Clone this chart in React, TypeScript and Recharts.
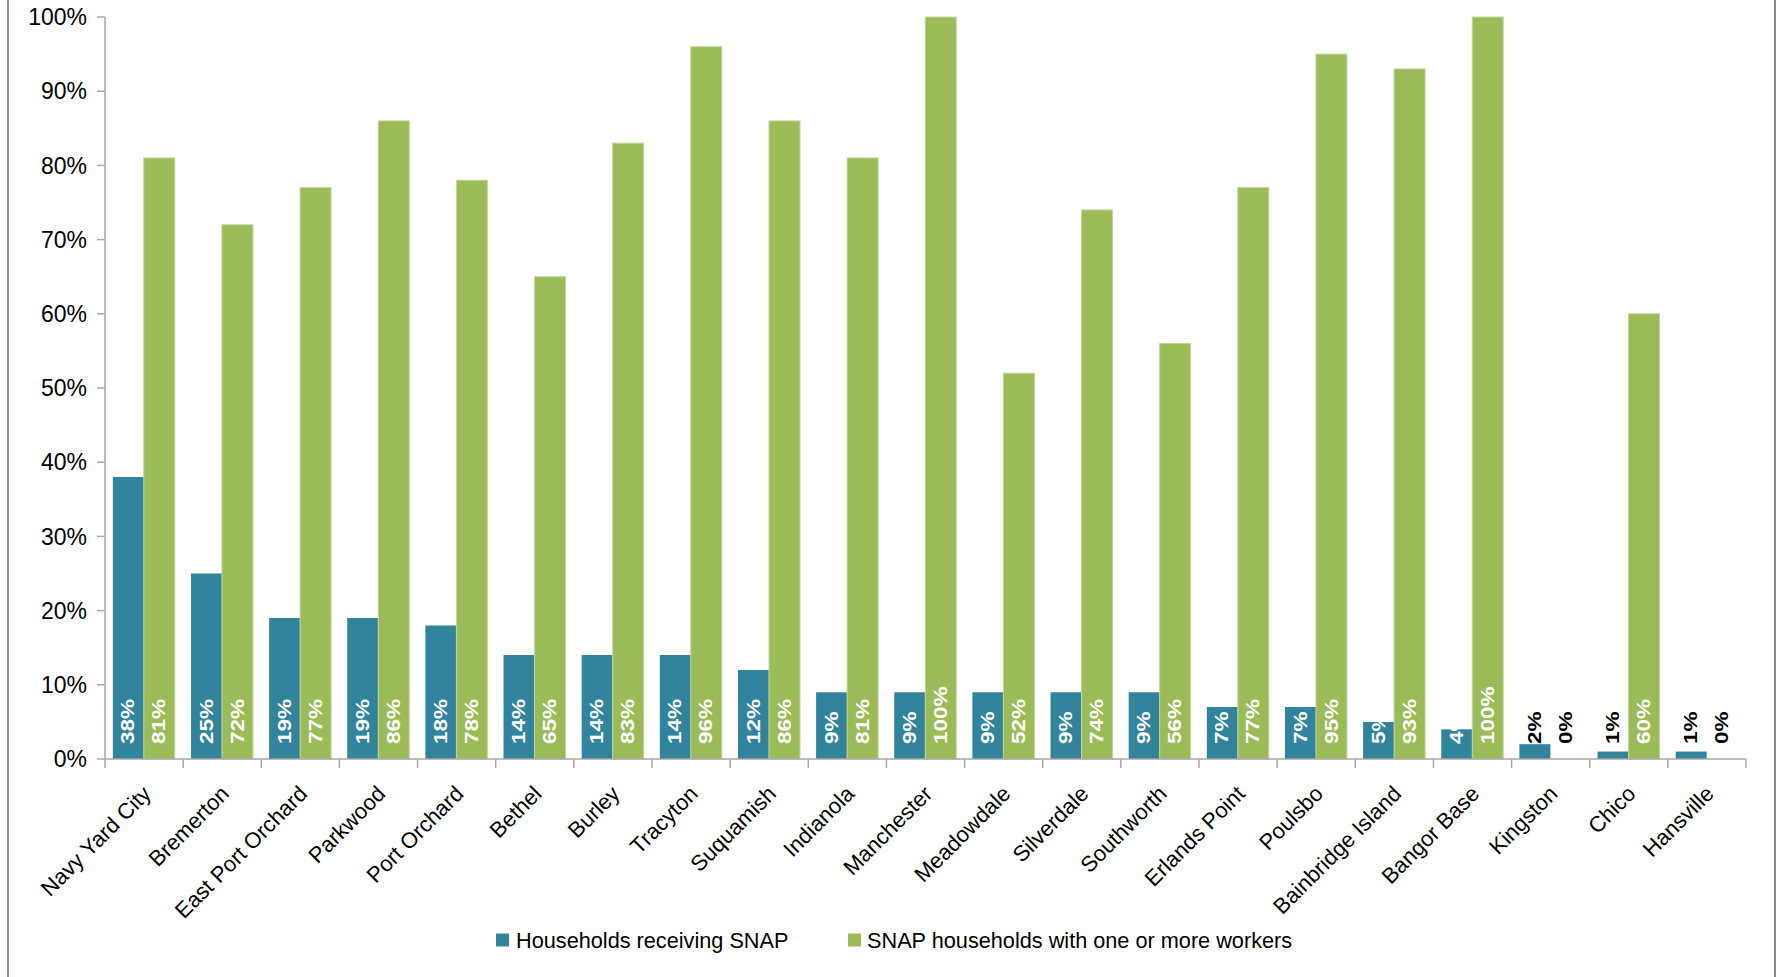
import React from "react";
import { BarChart, Bar, XAxis, YAxis, Legend, LabelList } from "recharts";

const places = [
  "Navy Yard City",
  "Bremerton",
  "East Port Orchard",
  "Parkwood",
  "Port Orchard",
  "Bethel",
  "Burley",
  "Tracyton",
  "Suquamish",
  "Indianola",
  "Manchester",
  "Meadowdale",
  "Silverdale",
  "Southworth",
  "Erlands Point",
  "Poulsbo",
  "Bainbridge Island",
  "Bangor Base",
  "Kingston",
  "Chico",
  "Hansville",
];
const snapShare = [38, 25, 19, 19, 18, 14, 14, 14, 12, 9, 9, 9, 9, 9, 7, 7, 5, 4, 2, 1, 1];
const workerShare = [81, 72, 77, 86, 78, 65, 83, 96, 86, 81, 100, 52, 74, 56, 77, 95, 93, 100, 0, 60, 0];
const yTicks = [0, 10, 20, 30, 40, 50, 60, 70, 80, 90, 100];

const BLUE = "#31849b";
const GREEN = "#9bbb59";
const AXIS = "#a6a6a6";
const FONT = "'Liberation Sans', Arial, sans-serif";

const W = 1777;
const H = 977;
const M = { top: 17, right: 31, left: 0, bottom: 20 };
const Y_W = 105;

const data = places.map((name, i) => ({
  name,
  snap: snapShare[i],
  workers: workerShare[i],
}));

function XTick(props: any) {
  const { x, y, payload, index, visibleTicksCount } = props;
  const half =
    payload && typeof payload.offset === "number" && payload.offset > 0
      ? payload.offset
      : (W - M.left - M.right - Y_W) / places.length / 2;
  const tx = x - 3;
  const ty = y + 25;
  return (
    <g>
      <line x1={x - half} x2={x - half} y1={y} y2={y + 9} stroke={AXIS} strokeWidth={1.5} />
      {index === visibleTicksCount - 1 && (
        <line x1={x + half} x2={x + half} y1={y} y2={y + 9} stroke={AXIS} strokeWidth={1.5} />
      )}
      <text
        x={tx}
        y={ty}
        dy="0.72em"
        textAnchor="end"
        transform={`rotate(-45, ${tx}, ${ty})`}
        fontSize={22}
        fontFamily={FONT}
        fill="#000"
      >
        {payload.value}
      </text>
    </g>
  );
}

function BarLabel(props: any) {
  const { x, y, width, height, value } = props;
  const cx = Number(x) + Number(width) / 2;
  const base = Number(y) + Number(height);
  const color = Number(value) < 3 ? "#000" : "#fff";
  return (
    <text
      transform={`translate(${cx}, ${base - 15}) rotate(-90) scale(1.25, 1)`}
      textAnchor="start"
      dominantBaseline="central"
      fontSize={18}
      fontWeight="bold"
      fontFamily={FONT}
      fill={color}
    >
      {value}%
    </text>
  );
}

function GreenBar(props: any) {
  const { x, y, width, height } = props;
  if (!(height > 0.5)) return <g />;
  return (
    <rect x={x} y={y} width={width} height={height} fill={GREEN} stroke="#c3d69b" strokeWidth={1} />
  );
}

function LegendBox() {
  return (
    <div style={{ height: 30, paddingLeft: 496 }}>
      <svg width={820} height={30}>
        <rect x={0} y={6.5} width={13} height={13} fill={BLUE} />
        <text x={20} y={13} dominantBaseline="central" fontSize={21.7} fontFamily={FONT} fill="#000">
          Households receiving SNAP
        </text>
        <rect x={352} y={6.5} width={13} height={13} fill={GREEN} />
        <text x={371} y={13} dominantBaseline="central" fontSize={21.7} fontFamily={FONT} fill="#000">
          SNAP households with one or more workers
        </text>
      </svg>
    </div>
  );
}

export default function App() {
  return (
    <div
      style={{
        position: "fixed",
        left: 0,
        top: 0,
        width: W,
        height: H,
        overflow: "hidden",
        background: "#fff",
      }}
    >
      <div
        style={{
          position: "absolute",
          left: 7,
          top: 0,
          width: 1765,
          height: H,
          borderLeft: "2px solid #8a8a8a",
          borderRight: "2px solid #8a8a8a",
        }}
      />
      <div style={{ position: "absolute", left: 0, top: 0 }}>
        <BarChart
          width={W}
          height={H}
          data={data}
          margin={M}
          barCategoryGap="10%"
          barGap={0}
          style={{ fontFamily: FONT }}
        >
          <YAxis
            width={Y_W}
            domain={[0, 100]}
            ticks={yTicks}
            interval={0}
            tickFormatter={(v: number) => `${v}%`}
            axisLine={{ stroke: AXIS, strokeWidth: 1.5 }}
            tickLine={{ stroke: AXIS, strokeWidth: 1.5 }}
            tickSize={8}
            tickMargin={10}
            tick={{ fontSize: 23, fill: "#000", fontFamily: FONT }}
          />
          <XAxis
            dataKey="name"
            interval={0}
            height={168}
            tickLine={false}
            tickSize={0}
            tickMargin={0}
            axisLine={{ stroke: AXIS, strokeWidth: 1.5 }}
            tick={<XTick />}
          />
          <Legend verticalAlign="bottom" align="left" height={30} content={<LegendBox />} />
          <Bar dataKey="snap" name="Households receiving SNAP" fill={BLUE} isAnimationActive={false}>
            <LabelList dataKey="snap" content={<BarLabel />} />
          </Bar>
          <Bar
            dataKey="workers"
            name="SNAP households with one or more workers"
            fill={GREEN}
            minPointSize={0.01}
            shape={<GreenBar />}
            isAnimationActive={false}
          >
            <LabelList dataKey="workers" content={<BarLabel />} />
          </Bar>
        </BarChart>
      </div>
    </div>
  );
}
